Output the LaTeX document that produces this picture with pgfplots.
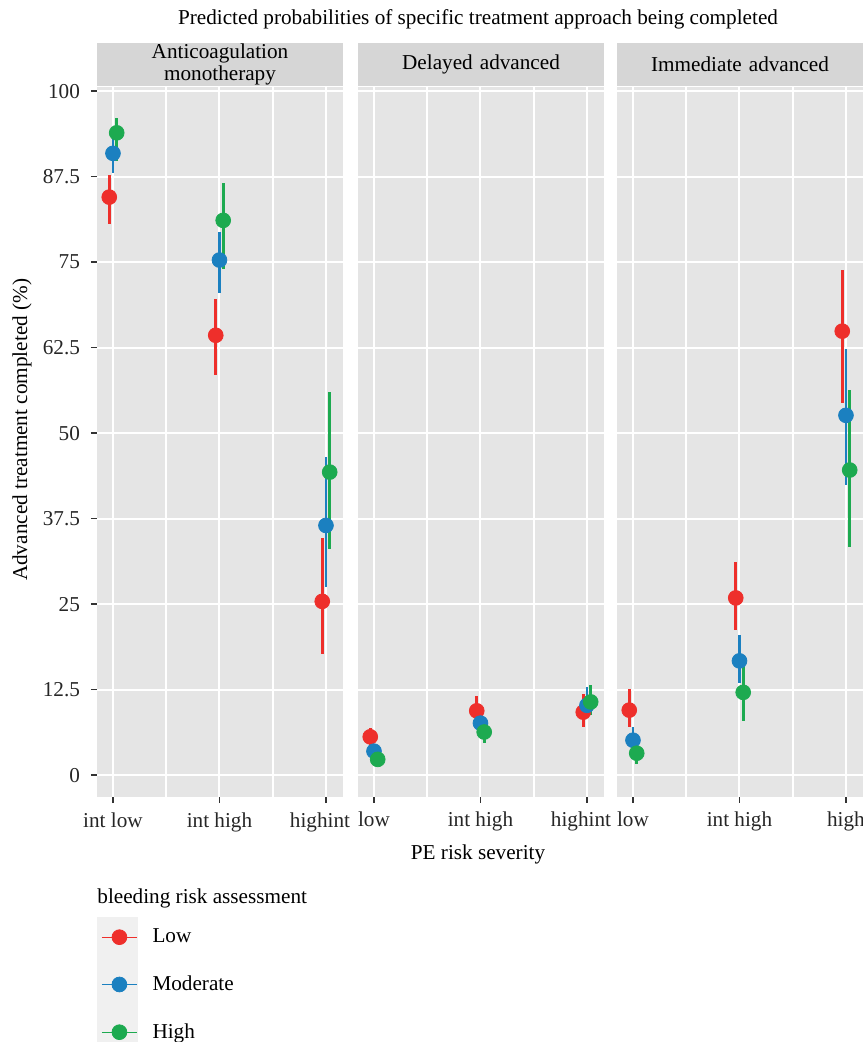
\documentclass[border=0pt]{standalone}
\usepackage{fontspec}
\setmainfont{Liberation Serif}
\usepackage{pgfplots}
\pgfplotsset{compat=1.18}
\usepackage{pgfplotstable}

\definecolor{lowc}{HTML}{EE2F2B}
\definecolor{modc}{HTML}{1B80C0}
\definecolor{highc}{HTML}{1DAA50}
\definecolor{panelbg}{HTML}{E5E5E5}
\definecolor{stripbg}{HTML}{D6D6D6}
\definecolor{keybg}{HTML}{F0F0F0}
\definecolor{tickc}{HTML}{333333}

\newcommand{\fsz}{\fontsize{10.6}{11}\selectfont}
\newcommand{\hiint}{highint\rule{6pt}{0pt}}

% cat, then estimate / lower / upper for low (l), moderate (m), high (h)
\pgfplotstableread{
cat ly   ll   lh   my   ml   mh   hy   hl   hh
1   84.5 80.6 87.7 90.9 88.0 93.1 93.9 89.8 96.1
2   64.3 58.5 69.6 75.3 70.5 79.4 81.1 74.0 86.5
3   25.4 17.7 34.6 36.5 27.5 46.5 44.3 33.0 56.0
}\tabanticoag

\pgfplotstableread{
cat ly   ll   lh   my   ml   mh   hy   hl   hh
1   5.6  4.1  6.9  3.5  2.5  4.4  2.3  1.3  3.4
2   9.4  7.3  11.6 7.6  6.1  9.2  6.3  4.7  8.0
3   9.2  7.0  11.8 10.2 8.3  12.9 10.7 8.8  13.2
}\tabdelayed

\pgfplotstableread{
cat ly   ll   lh   my   ml   mh   hy   hl   hh
1   9.5  7.0  12.6 5.1  3.5  7.0  3.2  1.6  5.1
2   25.9 21.2 31.1 16.7 13.5 20.5 12.1 7.9  16.4
3   64.9 54.4 73.8 52.6 42.4 62.3 44.6 33.3 56.3
}\tabimmed

% #1 table, #2 column prefix, #3 colour, #4 dodge offset
\newcommand{\pointrange}[4]{%
  \addplot[#3, only marks, mark=*, mark size=3.7pt, forget plot,
    error bars/.cd, y dir=both, y explicit, error mark=none,
    error bar style={line width=1.4pt, #3}]
    table[x expr=\thisrow{cat}+#4, y=#2y,
      y error plus expr=\thisrow{#2h}-\thisrow{#2y},
      y error minus expr=\thisrow{#2y}-\thisrow{#2l}] {#1};
}

\pgfplotsset{
  panel/.style={
    scale only axis, width=123pt, height=355pt,
    xmin=0.85, xmax=3.16, ymin=-3.2, ymax=100.6,
    axis background/.style={fill=panelbg},
    axis line style={draw=none},
    xtick={1,2,3}, minor xtick={1.5,2.5},
    ytick={0,12.5,25,37.5,50,62.5,75,87.5,100},
    xmajorgrids, xminorgrids, ymajorgrids,
    major grid style={white, line width=1pt},
    minor grid style={white, line width=1pt},
    tick align=outside, xtick pos=left, ytick pos=left,
    major tick length=3pt, minor tick length=0pt,
    tick style={tickc, line width=0.8pt},
    ticklabel style={font=\fsz, text=black!85},
    xticklabel style={anchor=base, yshift=-12pt},
    title style={at={(0.5,1)}, anchor=south, yshift=-5.5pt, fill=stripbg,
      minimum width=123pt, text width=121pt, minimum height=21.5pt,
      inner sep=0pt, align=center, font=\fsz},
  },
}

\begin{document}
\begin{tikzpicture}
\fill[keybg] (0pt,-60pt) rectangle (20.5pt,-124pt);
\node[font=\fsz, anchor=base west, inner sep=0pt] at (0pt,-53.5pt) {bleeding risk assessment};
\node[font=\fsz] at (190.5pt,389pt) {Predicted probabilities of specific treatment approach being completed};

\begin{axis}[panel, at={(0pt,0pt)},
  title={Anticoagulation\\monotherapy},
  xticklabels={int low, int high, \hiint},
  yticklabels={0,12.5,25,37.5,50,62.5,75,87.5,100},
  yticklabel style={xshift=-2pt},
  ylabel={Advanced treatment completed (\%)},
  ylabel style={at={(axis description cs:-0.305,0.517)}, anchor=center, font=\fsz},
  legend style={at={(axis description cs:0.016,-0.185)}, anchor=north west,
    draw=none, fill=none, inner sep=0pt, row sep=15pt, font=\fsz,
    nodes={inner sep=0pt},
    /tikz/every odd column/.append style={column sep=7.5pt}},
  legend cell align=left]
\pointrange{\tabanticoag}{l}{lowc}{-0.035}
\pointrange{\tabanticoag}{m}{modc}{0}
\pointrange{\tabanticoag}{h}{highc}{0.035}
\addlegendimage{legend image code/.code={\draw[lowc,line width=0.6pt] (0pt,0pt) -- (17.5pt,0pt); \fill[lowc] (8.75pt,0pt) circle (3.7pt);}}
\addlegendentry{Low}
\addlegendimage{legend image code/.code={\draw[modc,line width=0.6pt] (0pt,0pt) -- (17.5pt,0pt); \fill[modc] (8.75pt,0pt) circle (3.7pt);}}
\addlegendentry{Moderate}
\addlegendimage{legend image code/.code={\draw[highc,line width=0.6pt] (0pt,0pt) -- (17.5pt,0pt); \fill[highc] (8.75pt,0pt) circle (3.7pt);}}
\addlegendentry{High}
\end{axis}

\begin{axis}[panel, at={(130.5pt,0pt)},
  title={Delayed advanced},
  xticklabels={low, int high, \hiint},
  yticklabels={}, ytick style={draw=none},
  xlabel={PE risk severity},
  xlabel style={at={(axis description cs:0.488,-0.081)}, anchor=center, font=\fsz}]
\pointrange{\tabdelayed}{l}{lowc}{-0.035}
\pointrange{\tabdelayed}{m}{modc}{0}
\pointrange{\tabdelayed}{h}{highc}{0.035}
\end{axis}

\begin{axis}[panel, at={(260pt,0pt)},
  title={Immediate advanced},
  xticklabels={low, int high, high},
  yticklabels={}, ytick style={draw=none}]
\pointrange{\tabimmed}{l}{lowc}{-0.035}
\pointrange{\tabimmed}{m}{modc}{0}
\pointrange{\tabimmed}{h}{highc}{0.035}
\end{axis}

\pgfresetboundingbox
\path[use as bounding box] (-48.5pt,-122.5pt) rectangle (382.5pt,398.5pt);
\end{tikzpicture}
\end{document}
